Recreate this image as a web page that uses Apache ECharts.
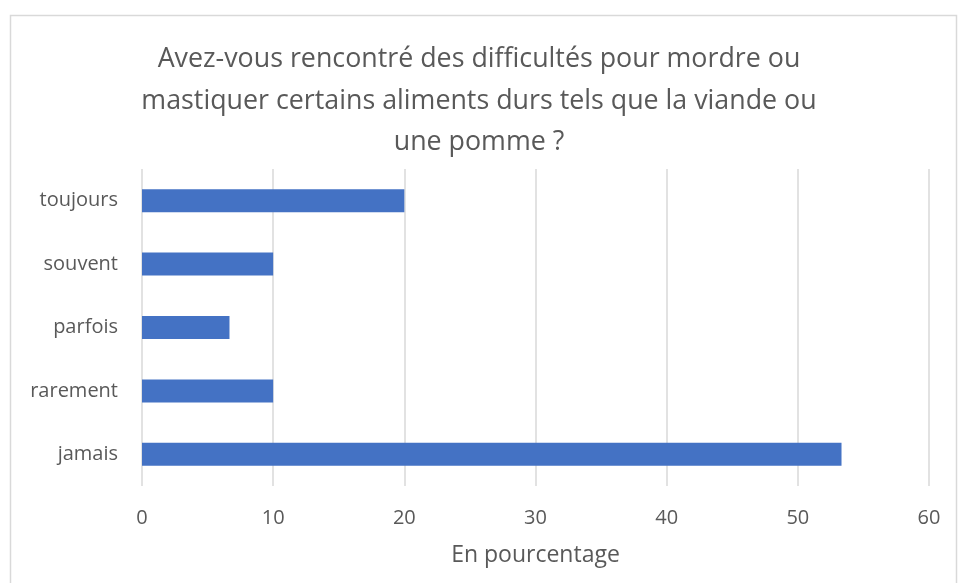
<!DOCTYPE html>
<html>
<head>
<meta charset="utf-8">
<script src="https://cdn.jsdelivr.net/npm/echarts@6/dist/echarts.min.js"></script>
<style>
  html, body { margin: 0; padding: 0; background: #fff; }
  #chart { width: 958px; height: 583px; }
</style>
</head>
<body>
<div id="chart"></div>
<script>
// categories from bottom to top (category axis starts at bottom)
const categories = ['jamais', 'rarement', 'parfois', 'souvent', 'toujours'];
const values = [53.33, 10, 6.67, 10, 20];
const titleText = 'Avez-vous rencontré des difficultés pour mordre ou\nmastiquer certains aliments durs tels que la viande ou\nune pomme ?';
const axisName = 'En pourcentage';

const chart = echarts.init(document.getElementById('chart'));
const font = 'Open Sans, sans-serif';

chart.setOption({
  animation: false,
  textStyle: { fontFamily: font },
  graphic: [
    {
      type: 'rect',
      shape: { x: 10.5, y: 15.5, width: 946, height: 580 },
      style: { fill: 'none', stroke: '#d9d9d9', lineWidth: 1.5 },
      silent: true
    }
  ],
  title: {
    text: titleText,
    left: 'center',
    top: 34,
    textStyle: {
      fontFamily: font,
      fontSize: 26.8,
      fontWeight: 'normal',
      color: '#595959',
      lineHeight: 41.5
    }
  },
  grid: { left: 142, right: 29, top: 169, bottom: 97 },
  xAxis: {
    type: 'value',
    min: 0,
    max: 60,
    interval: 10,
    name: axisName,
    nameLocation: 'middle',
    nameGap: 58,
    nameTextStyle: { fontFamily: font, fontSize: 23, color: '#595959' },
    axisLine: { show: false },
    axisTick: { show: false },
    axisLabel: { fontFamily: font, fontSize: 20, color: '#595959', margin: 22 },
    splitLine: { show: true, lineStyle: { color: '#d9d9d9', width: 1.5 } }
  },
  yAxis: {
    type: 'category',
    data: categories,
    axisLine: { show: false },
    axisTick: { show: false },
    axisLabel: { fontFamily: font, fontSize: 20, color: '#595959', margin: 24 }
  },
  series: [
    {
      type: 'bar',
      data: values,
      barWidth: 23,
      itemStyle: { color: '#4472C4' }
    }
  ]
});
</script>
</body>
</html>
